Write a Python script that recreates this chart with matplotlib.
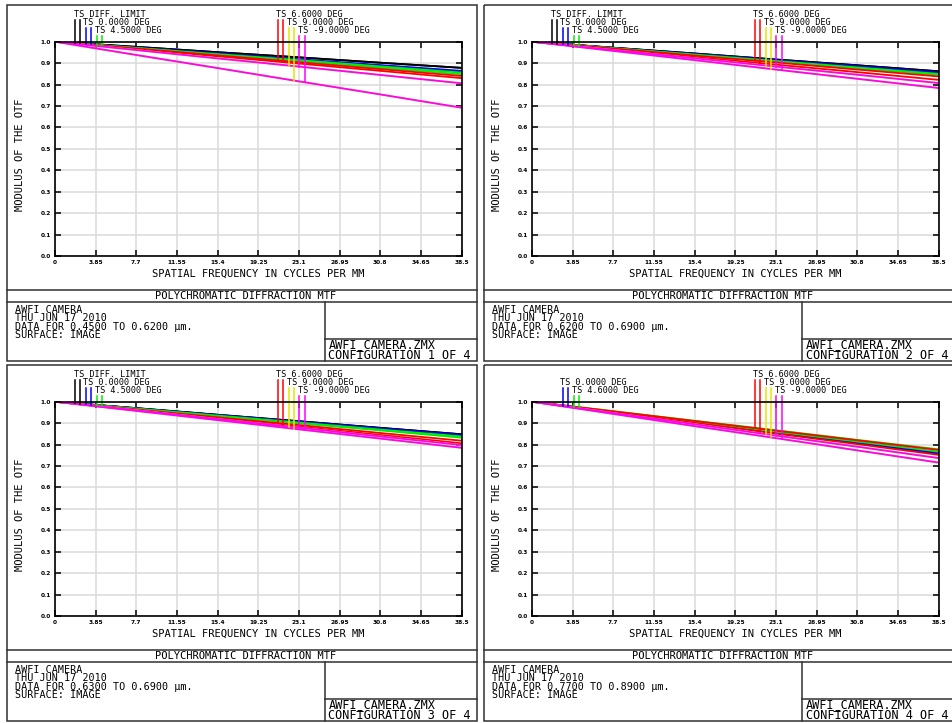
import numpy as np
import matplotlib
matplotlib.use("Agg")
import matplotlib.pyplot as plt
from matplotlib.patches import Rectangle

# ---------------- data ----------------
FREQ = [0.0, 7.7, 15.4, 23.1, 30.8, 38.5]
XMAX = 38.5
X_TICKS = [0, 3.85, 7.7, 11.55, 15.4, 19.25, 23.1, 26.95, 30.8, 34.65, 38.5]
X_TICK_LABELS = ["0", "3.85", "7.7", "11.55", "15.4", "19.25", "23.1",
                 "26.95", "30.8", "34.65", "38.5"]
Y_TICKS = [0.0, 0.1, 0.2, 0.3, 0.4, 0.5, 0.6, 0.7, 0.8, 0.9, 1.0]
Y_TICK_LABELS = ["0.0", "0.1", "0.2", "0.3", "0.4", "0.5", "0.6", "0.7",
                 "0.8", "0.9", "1.0"]

FIELD_NAMES = ["DIFF. LIMIT", "0.0000 DEG", "4.5000 DEG", "6.6000 DEG",
               "9.0000 DEG", "-9.0000 DEG"]
FIELD_NAMES_P4 = [None, "0.0000 DEG", "4.6000 DEG", "6.6000 DEG",
                  "9.0000 DEG", "-9.0000 DEG"]
FIELD_COLORS = ["#000000", "#0000ff", "#00ee00", "#ff0000", "#e6e600", "#ff00ff"]

# tangential / sagittal MTF per field (diff, 0, 4.5, 6.6, 9, -9)
P1_T = [[1.0, 0.976, 0.951, 0.927, 0.902, 0.878],
        [1.0, 0.973, 0.946, 0.918, 0.891, 0.864],
        [1.0, 0.971, 0.942, 0.914, 0.885, 0.856],
        [1.0, 0.968, 0.936, 0.904, 0.872, 0.840],
        [1.0, 0.961, 0.922, 0.884, 0.845, 0.806],
        [1.0, 0.961, 0.922, 0.884, 0.845, 0.806]]
P1_S = [[1.0, 0.976, 0.951, 0.927, 0.902, 0.878],
        [1.0, 0.972, 0.943, 0.915, 0.886, 0.858],
        [1.0, 0.970, 0.939, 0.909, 0.878, 0.848],
        [1.0, 0.966, 0.932, 0.898, 0.864, 0.830],
        [1.0, 0.938, 0.877, 0.815, 0.754, 0.692],
        [1.0, 0.938, 0.877, 0.815, 0.754, 0.692]]

P2_T = [[1.0, 0.972, 0.945, 0.917, 0.890, 0.862],
        [1.0, 0.971, 0.943, 0.914, 0.886, 0.857],
        [1.0, 0.970, 0.940, 0.910, 0.880, 0.850],
        [1.0, 0.968, 0.935, 0.903, 0.870, 0.838],
        [1.0, 0.961, 0.923, 0.884, 0.846, 0.807],
        [1.0, 0.961, 0.923, 0.884, 0.846, 0.807]]
P2_S = [[1.0, 0.972, 0.945, 0.917, 0.890, 0.862],
        [1.0, 0.970, 0.941, 0.911, 0.882, 0.852],
        [1.0, 0.969, 0.938, 0.907, 0.876, 0.845],
        [1.0, 0.964, 0.929, 0.893, 0.858, 0.822],
        [1.0, 0.957, 0.914, 0.870, 0.827, 0.784],
        [1.0, 0.957, 0.914, 0.870, 0.827, 0.784]]

P3_T = [[1.0, 0.970, 0.939, 0.909, 0.878, 0.848],
        [1.0, 0.969, 0.938, 0.907, 0.876, 0.845],
        [1.0, 0.968, 0.935, 0.903, 0.870, 0.838],
        [1.0, 0.964, 0.927, 0.891, 0.854, 0.818],
        [1.0, 0.960, 0.919, 0.879, 0.838, 0.798],
        [1.0, 0.960, 0.919, 0.879, 0.838, 0.798]]
P3_S = [[1.0, 0.970, 0.939, 0.909, 0.878, 0.848],
        [1.0, 0.968, 0.937, 0.905, 0.874, 0.842],
        [1.0, 0.966, 0.933, 0.899, 0.866, 0.832],
        [1.0, 0.961, 0.922, 0.884, 0.845, 0.806],
        [1.0, 0.957, 0.914, 0.871, 0.828, 0.785],
        [1.0, 0.957, 0.914, 0.871, 0.828, 0.785]]

P4_T = [None,
        [1.0, 0.952, 0.905, 0.857, 0.810, 0.762],
        [1.0, 0.956, 0.911, 0.867, 0.822, 0.778],
        [1.0, 0.955, 0.910, 0.865, 0.820, 0.775],
        [1.0, 0.947, 0.895, 0.842, 0.790, 0.737],
        [1.0, 0.947, 0.895, 0.842, 0.790, 0.737]]
P4_S = [None,
        [1.0, 0.952, 0.903, 0.855, 0.806, 0.758],
        [1.0, 0.953, 0.907, 0.860, 0.814, 0.767],
        [1.0, 0.950, 0.901, 0.851, 0.802, 0.752],
        [1.0, 0.943, 0.886, 0.830, 0.773, 0.716],
        [1.0, 0.943, 0.886, 0.830, 0.773, 0.716]]

WAVE_RANGES = ["0.4500 TO 0.6200", "0.6200 TO 0.6900",
               "0.6300 TO 0.6900", "0.7700 TO 0.8900"]
CONFIG_NUMBERS = [1, 2, 3, 4]
TITLE = "POLYCHROMATIC DIFFRACTION MTF"
LENS_TITLE = "AWFI CAMERA"
DATE = "THU JUN 17 2010"
SURFACE = "SURFACE: IMAGE"
FILE_NAME = "AWFI_CAMERA.ZMX"
X_LABEL = "SPATIAL FREQUENCY IN CYCLES PER MM"
Y_LABEL = "MODULUS OF THE OTF"

# ---------------- layout (pixels, panel-local) ----------------
W, H = 952, 723
OFFSETS = [(0, 0), (477, 0), (0, 360), (477, 360)]
AX_L, AX_T, AX_R, AX_B = 55.0, 41.7, 461.5, 256.0
MONO = "DejaVu Sans Mono"

LEG_LABEL_X = [74, 83.3, 95, 276, 287.3, 297.7]
LEG_ROW = [0, 1, 2, 0, 1, 2]
LEG_ROW_Y = [14.2, 22.7, 30.9]
LEG_LINE_TOP = [19.5, 28.0, 36.3]
LEG_LINE_X = [(75, 80), (86, 91), (96.7, 101.7), (277.7, 283.3),
              (289.3, 294.3), (299.3, 305)]

fig = plt.figure(figsize=(W / 100, H / 100), dpi=100)
fig.patch.set_facecolor("white")

bg = fig.add_axes([0, 0, 1, 1])
bg.set_xlim(0, W)
bg.set_ylim(H, 0)
bg.axis("off")
bg.set_zorder(0)

panels_T = [P1_T, P2_T, P3_T, P4_T]
panels_S = [P1_S, P2_S, P3_S, P4_S]


def px2data(px, py):
    xd = (px - AX_L) / (AX_R - AX_L) * XMAX
    yd = 1.0 - (py - AX_T) / (AX_B - AX_T)
    return xd, yd


frame_c = "#303030"
for i, (dx, dy) in enumerate(OFFSETS):
    clip = Rectangle((dx + 6, dy + 4), 472, 358, transform=bg.transData,
                     fill=False, visible=False)
    bg.add_patch(clip)
    # frame
    bg.add_patch(Rectangle((dx + 7, dy + 5), 470, 356, fill=False,
                           lw=1.1, ec=frame_c))
    bg.plot([dx + 7, dx + 477], [dy + 289.5] * 2, color=frame_c, lw=1.1)
    bg.plot([dx + 7, dx + 477], [dy + 302] * 2, color=frame_c, lw=1.1)
    bg.plot([dx + 325, dx + 325], [dy + 302, dy + 361], color=frame_c, lw=1.1)
    bg.plot([dx + 325, dx + 477], [dy + 338.5] * 2, color=frame_c, lw=1.1)

    bg.text(dx + 246, dy + 296, TITLE, fontsize=7.5, family=MONO,
            ha="center", va="center")
    info = [LENS_TITLE, DATE, "DATA FOR %s \u00b5m." % WAVE_RANGES[i], SURFACE]
    bg.text(dx + 15, dy + 322.5, "\n".join(info), fontsize=7.3, family=MONO,
            ha="left", va="center", linespacing=0.83)
    t1 = bg.text(dx + 328.5, dy + 350.0,
                 FILE_NAME + "\n" + "CONFIGURATION %d OF 4" % CONFIG_NUMBERS[i],
                 fontsize=8.6, family=MONO, ha="left", va="center",
                 linespacing=0.74)
    t1.set_clip_path(clip)

    bg.text(dx + 20, dy + 155, Y_LABEL, fontsize=7.5, family=MONO,
            rotation=90, ha="center", va="center")
    bg.text(dx + 258, dy + 273.5, X_LABEL, fontsize=7.5, family=MONO,
            ha="center", va="center")

    ax = fig.add_axes([(AX_L + dx) / W, 1 - (AX_B + dy) / H,
                       (AX_R - AX_L) / W, (AX_B - AX_T) / H])
    ax.set_zorder(1)
    ax.set_xlim(0, XMAX)
    ax.set_ylim(0, 1.0)
    ax.set_xticks(X_TICKS)
    ax.set_xticklabels(X_TICK_LABELS)
    ax.set_yticks(Y_TICKS)
    ax.set_yticklabels(Y_TICK_LABELS)
    ax.grid(True, color="#dadada", lw=1.1)
    ax.set_axisbelow(True)
    ax.tick_params(direction="in", length=4, width=1.1, top=True, right=True,
                   labelsize=4.2, pad=3, color="black")
    for lab in ax.get_xticklabels() + ax.get_yticklabels():
        lab.set_fontweight("bold")
    for sp in ax.spines.values():
        sp.set_linewidth(1.2)
        sp.set_color("black")

    T = panels_T[i]
    S = panels_S[i]
    names = FIELD_NAMES_P4 if i == 3 else FIELD_NAMES
    for k in range(len(T)):
        if T[k] is None:
            continue
        c = FIELD_COLORS[k]
        ax.plot(FREQ, T[k], color=c, lw=1.3, solid_capstyle="butt")
        ax.plot(FREQ, S[k], color=c, lw=1.3, solid_capstyle="butt")

    # legend labels and drop lines
    for k in range(len(T)):
        if T[k] is None:
            continue
        c = FIELD_COLORS[k]
        row = LEG_ROW[k]
        bg.text(dx + LEG_LABEL_X[k], dy + LEG_ROW_Y[row], "TS " + names[k],
                fontsize=6.1, family=MONO, ha="left", va="center")
        for lx, curve in zip(LEG_LINE_X[k], (T[k], S[k])):
            xd, ytop = px2data(lx, LEG_LINE_TOP[row])
            ybot = np.interp(xd, FREQ, curve)
            ax.plot([xd, xd], [ytop, ybot], color=c, lw=1.1, clip_on=False)

fig.savefig("out.png", dpi=100, facecolor="white")
